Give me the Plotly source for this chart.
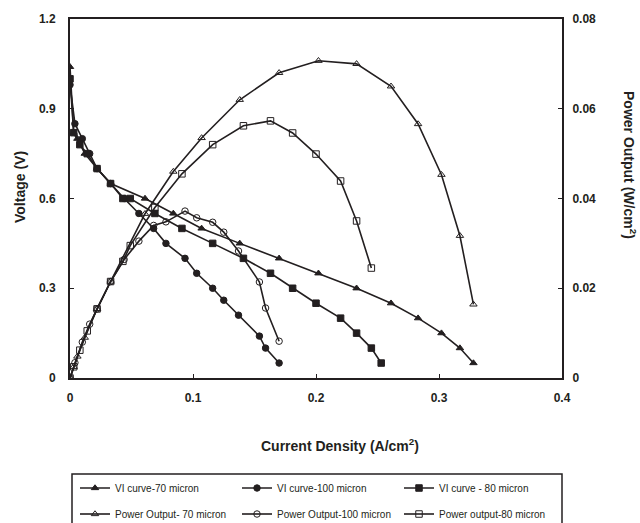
import plotly.graph_objects as go

# ---- data ----
cur_70 = [0, 0.003, 0.006, 0.012, 0.022, 0.033, 0.061, 0.084, 0.107, 0.138, 0.170, 0.202, 0.233, 0.261, 0.283, 0.302, 0.317, 0.328]
volt_70 = [1.04, 0.82, 0.80, 0.75, 0.70, 0.65, 0.60, 0.55, 0.50, 0.45, 0.40, 0.35, 0.30, 0.25, 0.20, 0.15, 0.10, 0.05]
pow_70 = [0, 0.0025, 0.0048, 0.009, 0.0154, 0.0215, 0.0366, 0.046, 0.0535, 0.062, 0.068, 0.0707, 0.0700, 0.065, 0.0566, 0.0453, 0.0317, 0.0164]

cur_100 = [0, 0.004, 0.010, 0.016, 0.022, 0.033, 0.044, 0.056, 0.068, 0.078, 0.0935, 0.103, 0.116, 0.125, 0.137, 0.154, 0.159, 0.170]
volt_100 = [0.98, 0.85, 0.80, 0.75, 0.70, 0.65, 0.60, 0.55, 0.50, 0.45, 0.40, 0.35, 0.30, 0.26, 0.21, 0.14, 0.10, 0.05]
pow_100 = [0, 0.0034, 0.008, 0.012, 0.0154, 0.0215, 0.0264, 0.0305, 0.034, 0.0348, 0.0372, 0.0357, 0.0347, 0.0325, 0.0283, 0.0214, 0.0156, 0.0082]

cur_80 = [0, 0.003, 0.008, 0.014, 0.022, 0.033, 0.043, 0.049, 0.069, 0.091, 0.116, 0.141, 0.163, 0.181, 0.200, 0.220, 0.233, 0.245, 0.253]
volt_80 = [1.00, 0.82, 0.78, 0.75, 0.70, 0.65, 0.60, 0.60, 0.55, 0.50, 0.45, 0.40, 0.35, 0.30, 0.25, 0.20, 0.15, 0.10, 0.05]
cur_80_pow = [0, 0.003, 0.008, 0.014, 0.022, 0.033, 0.043, 0.049, 0.069, 0.091, 0.116, 0.141, 0.163, 0.181, 0.200, 0.220, 0.233, 0.245]
pow_80 = [0, 0.0025, 0.0062, 0.0105, 0.0154, 0.0215, 0.026, 0.0295, 0.038, 0.0455, 0.052, 0.0562, 0.0573, 0.0546, 0.0499, 0.0439, 0.035, 0.0245]

x_ticks = [0, 0.1, 0.2, 0.3, 0.4]
x_labels = ["0", "0.1", "0.2", "0.3", "0.4"]
y_ticks = [0, 0.3, 0.6, 0.9, 1.2]
y_labels = ["0", "0.3", "0.6", "0.9", "1.2"]
y2_ticks = [0, 0.02, 0.04, 0.06, 0.08]
y2_labels = ["0", "0.02", "0.04", "0.06", "0.08"]

INK = "#231f20"
W, H = 640, 523
L, R, T, B = 70, 78, 19, 145
PW, PH = W - L - R, H - T - B


def px(xp):
    return (xp - L) / PW


def py(yp):
    return (H - B - yp) / PH


def bold(labels):
    return ["<b>%s</b>" % s for s in labels]


fig = go.Figure()

series = [
    ("VI curve-70 micron", cur_70, volt_70, "y", "triangle-up", "legend"),
    ("VI curve-100 micron", cur_100, volt_100, "y", "circle", "legend"),
    ("VI curve - 80 micron", cur_80, volt_80, "y", "square", "legend"),
    ("Power Output- 70 micron", cur_70, pow_70, "y2", "triangle-up-open", "legend2"),
    ("Power Output-100 micron", cur_100, pow_100, "y2", "circle-open", "legend2"),
    ("Power output-80 micron", cur_80_pow, pow_80, "y2", "square-open", "legend2"),
]
for name, xs, ys, ax, sym, lg in series:
    fig.add_trace(go.Scatter(
        x=xs, y=ys, name=name, yaxis=ax, mode="lines+markers", legend=lg,
        line=dict(color=INK, width=1.6),
        marker=dict(symbol=sym, size=6.5, color=INK, line=dict(color=INK, width=1)),
    ))

FONT = "Liberation Sans, Arial, sans-serif"
tickfont = dict(family=FONT, size=12, color=INK)
leg_common = dict(
    orientation="h", xanchor="left", yanchor="middle",
    font=dict(family="Liberation Sans Narrow, Liberation Sans, Arial", size=10, color=INK),
    entrywidth=117, entrywidthmode="pixels", itemwidth=30,
    bgcolor="rgba(0,0,0,0)", borderwidth=0,
)

fig.update_layout(
    width=W, height=H,
    margin=dict(l=L, r=R, t=T, b=B, autoexpand=False),
    paper_bgcolor="white", plot_bgcolor="white",
    showlegend=True,
    legend=dict(x=px(75), y=py(488), **leg_common),
    legend2=dict(x=px(75), y=py(514), **leg_common),
    xaxis=dict(range=[0, 0.4], tickvals=x_ticks, ticktext=bold(x_labels), showgrid=False, zeroline=False,
               showline=True, linecolor=INK, linewidth=2, mirror=True,
               ticks="inside", ticklen=4, tickcolor=INK, tickwidth=1, tickfont=tickfont,
               ticklabelstandoff=8),
    yaxis=dict(range=[0, 1.2], tickvals=y_ticks, ticktext=bold(y_labels), showgrid=False, zeroline=False,
               showline=True, linecolor=INK, linewidth=2,
               ticks="inside", ticklen=4, tickcolor=INK, tickwidth=1, tickfont=tickfont,
               ticklabelstandoff=10),
    yaxis2=dict(range=[0, 0.08], tickvals=y2_ticks, ticktext=bold(y2_labels), overlaying="y", side="right",
                showgrid=False, zeroline=False, showline=True, linecolor=INK, linewidth=2,
                ticks="inside", ticklen=4, tickcolor=INK, tickwidth=1, tickfont=tickfont,
                ticklabelstandoff=6),
    shapes=[dict(type="rect", xref="paper", yref="paper",
                 x0=px(72), x1=px(562), y0=py(474), y1=py(540),
                 line=dict(color=INK, width=1.5), fillcolor="rgba(0,0,0,0)")],
    annotations=[
        dict(text="<b>Current Density (A/cm<sup>2</sup>)</b>", xref="paper", yref="paper",
             x=px(340), y=py(445), showarrow=False, xanchor="center", yanchor="middle",
             font=dict(family=FONT, size=14, color=INK)),
        dict(text="<b>Voltage (V)</b>", xref="paper", yref="paper", textangle=-90,
             x=px(20), y=py(187), showarrow=False, xanchor="center", yanchor="middle",
             font=dict(family=FONT, size=14, color=INK)),
        dict(text="<b>Power Output (W/cm<sup>2</sup>)</b>", xref="paper", yref="paper", textangle=90,
             x=px(630), y=py(165), showarrow=False, xanchor="center", yanchor="middle",
             font=dict(family=FONT, size=14, color=INK)),
    ],
)

fig.write_html("out.html")
